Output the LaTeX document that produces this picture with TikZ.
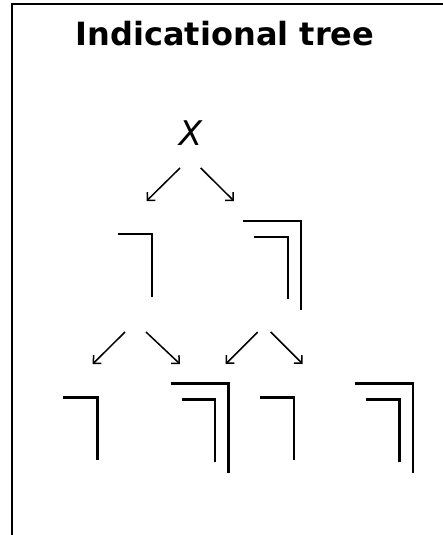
\documentclass[tikz,border=0pt]{standalone}
\usepackage{fontspec}
\setmainfont{DejaVu Sans}
\usetikzlibrary{arrows.meta}
\tikzset{
  frameline/.style={line width=2.4pt},
  symline/.style={line width=2.4pt},
  treearrow/.style={line width=1.5pt,-{Straight Barb[length=5.7pt,width=11.3pt,line width=1.5pt]}},
  pics/single/.style={code={\draw[symline] (0,0) -- (34,0) -- (34,62.7);}},
  pics/double/.style={code={
    \draw[symline] (0,0) -- (57.7,0) -- (57.7,89.3);
    \draw[symline] (11,16) -- (44.4,16) -- (44.4,78.6);}}
}
\begin{document}
\begin{tikzpicture}[x=1pt,y=-1pt]
\useasboundingbox (0,0) rectangle (443,535);
\draw[frameline] (12,536) -- (12,4) -- (444,4);
\node[anchor=base,font=\bfseries\fontsize{32}{38}\selectfont] (title) at (225,46) {Indicational tree};
\node[anchor=base,font=\itshape\fontsize{34}{40}\selectfont,inner sep=0pt] (x) at (190.5,145) {X};
% arrow endpoints
\coordinate (a1s) at (180,168); \coordinate (a1e) at (146.5,201);
\coordinate (a2s) at (200.7,168); \coordinate (a2e) at (234,201);
\coordinate (b1s) at (125,332); \coordinate (b1e) at (92.7,364);
\coordinate (b2s) at (146,332); \coordinate (b2e) at (180,364);
\coordinate (b3s) at (257.7,332); \coordinate (b3e) at (225.7,364);
\coordinate (b4s) at (270.7,332); \coordinate (b4e) at (302.7,364);
\draw[treearrow] (a1s) -- (a1e);
\draw[treearrow] (a2s) -- (a2e);
\draw[treearrow] (b1s) -- (b1e);
\draw[treearrow] (b2s) -- (b2e);
\draw[treearrow] (b3s) -- (b3e);
\draw[treearrow] (b4s) -- (b4e);
% symbols
\pic at (117.7,234) {single};
\pic at (243.3,220.7) {double};
\pic at (63.3,397.3) {single};
\pic at (170.7,383.3) {double};
\pic at (260,397.3) {single};
\pic at (355,383.3) {double};
\end{tikzpicture}
\end{document}
